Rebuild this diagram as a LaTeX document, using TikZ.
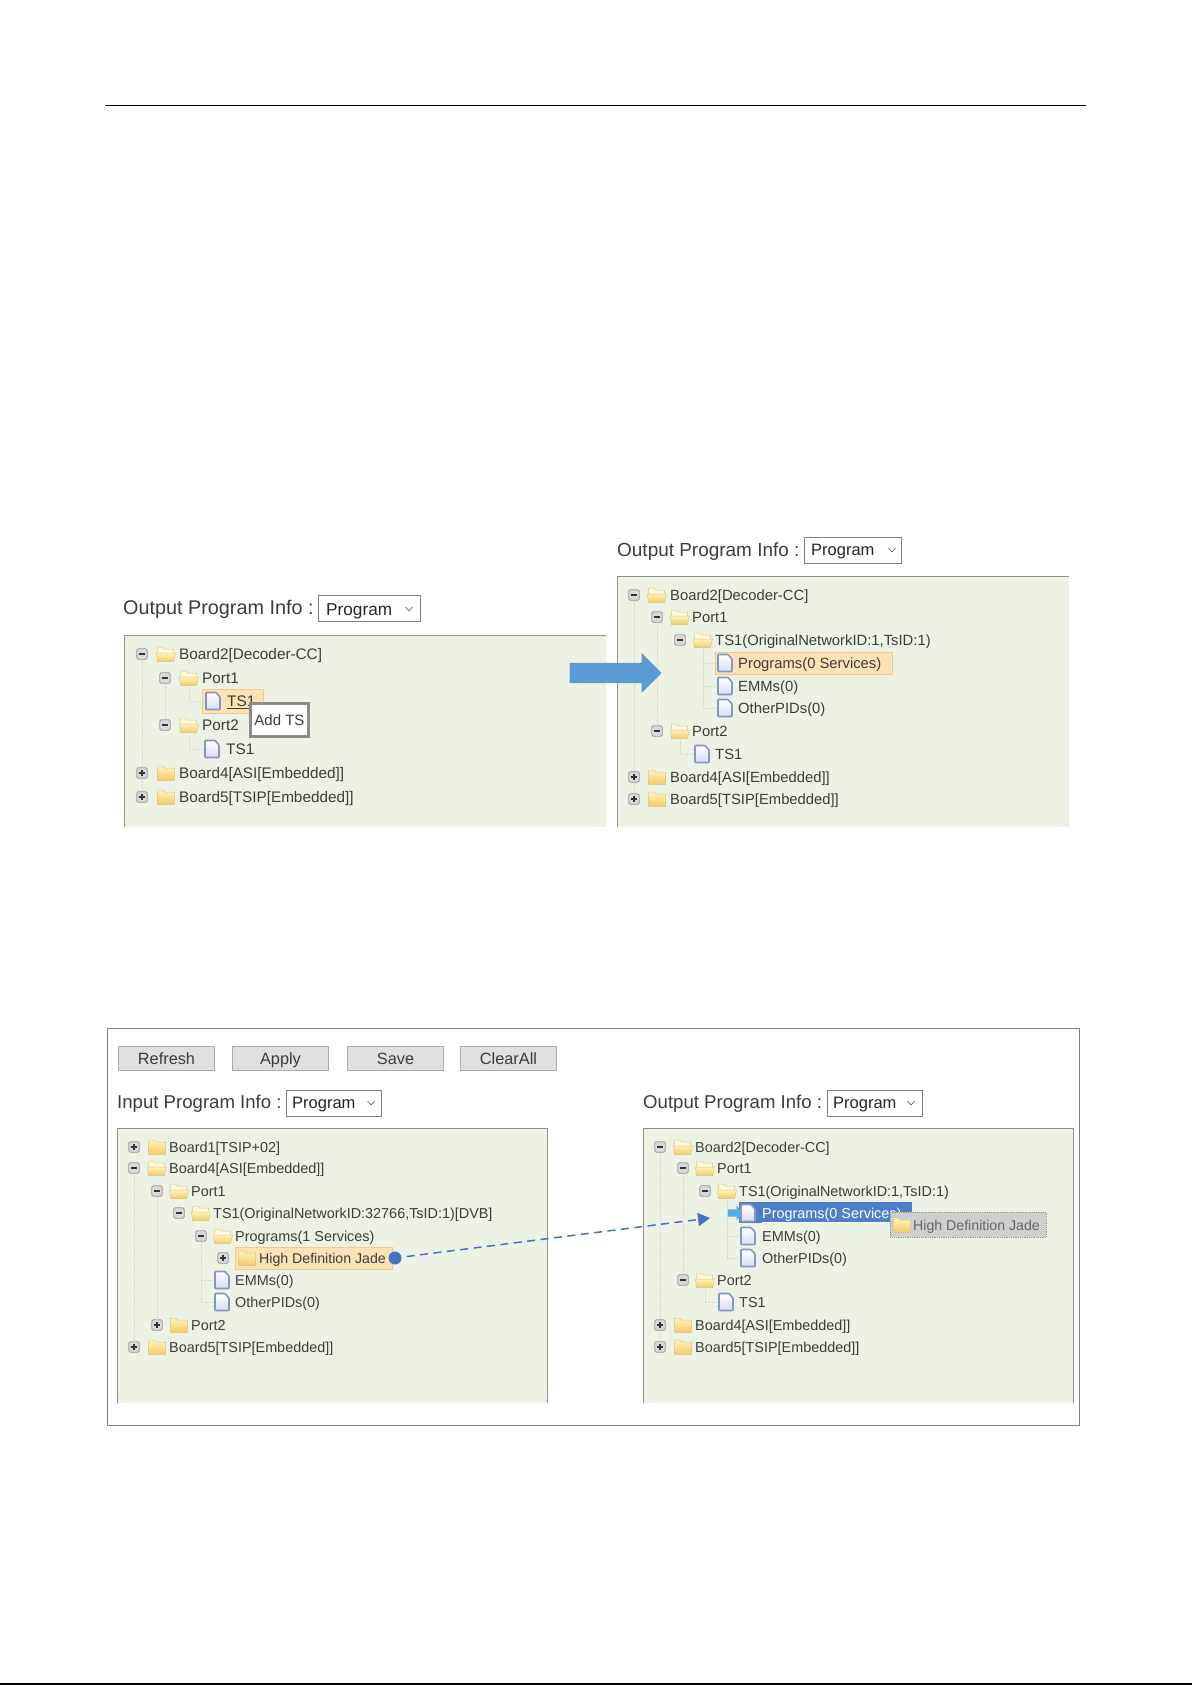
\documentclass[tikz,border=0pt]{standalone}
\usepackage{fontspec}
\setmainfont{Liberation Sans}
\usetikzlibrary{arrows.meta,shapes.arrows}
\definecolor{treeink}{HTML}{3C3C3C}
\definecolor{panelgreen}{HTML}{EDF3E4}
\definecolor{panelline}{HTML}{8F9388}
\definecolor{guideline}{HTML}{D2D7C8}
\definecolor{hiliteorange}{HTML}{FCE2B4}
\definecolor{hiliteline}{HTML}{F3C98A}
\definecolor{selectblue}{HTML}{4D7FC9}
\definecolor{flowblue}{HTML}{4472C4}
\definecolor{bigblue}{HTML}{5B9BD5}
\definecolor{markblue}{HTML}{4FAEE3}
\definecolor{foldertop}{HTML}{FFF3BE}
\definecolor{folderbot}{HTML}{F2CB66}
\definecolor{docline}{HTML}{8297C4}
\tikzset{
  treetext/.style 2 args={anchor=west,inner sep=0pt,text=treeink,font=\fontsize{#1}{#1}\selectfont,text height=#2,text depth=0pt},
  treeA/.style={treetext={15.3}{11pt}},
  treeB/.style={treetext={14.8}{10.7pt}},
  treeC/.style={treetext={14.4}{10.5pt}},
  treeD/.style={treetext={14.15}{10.5pt}},
  infoA/.style={treetext={19.8}{14pt}},
  infoB/.style={treetext={18.95}{13.5pt}},
  infoC/.style={treetext={18.6}{13.3pt}},
  progA/.style={treetext={17.2}{12.3pt},text=black!85},
  progB/.style={treetext={16.5}{11.7pt},text=black!85},
  selectbox/.style={draw=black!50,fill=white,line width=0.9pt,inner sep=0pt,minimum height=26pt,anchor=north west},
  hilite/.style={draw=hiliteline,fill=hiliteorange,line width=0.9pt,inner sep=0pt,anchor=north west},
  guide/.style={draw=guideline,line width=0.8pt,densely dotted},
  sidebar/.style={draw=panelline,line width=1pt},
  barbtn/.style={draw=black!33,fill=black!12,line width=0.9pt,minimum width=96pt,minimum height=24pt,inner sep=0pt,text=treeink,font=\fontsize{16.3}{16.3}\selectfont,text height=11.7pt,text depth=0pt},
  expbox/.style={draw=black!40,fill=black!15,rounded corners=1.5pt,line width=0.9pt,minimum size=10.5pt,inner sep=0pt},
  expminus/.style={expbox,path picture={
    \draw[black!80,line width=1.5pt] ([xshift=-3.2pt]path picture bounding box.center) -- ([xshift=3.2pt]path picture bounding box.center);}},
  expplus/.style={expbox,path picture={
    \draw[black!80,line width=1.4pt] ([xshift=-3.2pt]path picture bounding box.center) -- ([xshift=3.2pt]path picture bounding box.center);
    \draw[black!80,line width=1.4pt] ([yshift=-3.2pt]path picture bounding box.center) -- ([yshift=3.2pt]path picture bounding box.center);}},
  foldclosed/.style={minimum width=19pt,minimum height=17pt,inner sep=0pt,path picture={
    \begin{scope}[shift={(path picture bounding box.center)}]
      \draw[draw=folderbot!85!black!70,top color=foldertop,bottom color=folderbot,line width=0.5pt]
        (-8.5,-7) -- (-3.5,-7) -- (-1.5,-5) -- (8.5,-5) -- (8.5,7.5) -- (-8.5,7.5) -- cycle;
    \end{scope}}},
  foldopen/.style={minimum width=21pt,minimum height=17pt,inner sep=0pt,path picture={
    \begin{scope}[shift={(path picture bounding box.center)}]
      \draw[draw=folderbot!85!black!70,fill=foldertop!55,line width=0.5pt]
        (-8.5,-7) -- (-3.5,-7) -- (-1.5,-5) -- (7.5,-5) -- (7.5,7.5) -- (-8.5,7.5) -- cycle;
      \draw[draw=folderbot!85!black!70,top color=foldertop,bottom color=folderbot,line width=0.5pt]
        (-9.5,-1) -- (9.5,-1) -- (7.5,7.5) -- (-8.5,7.5) -- cycle;
    \end{scope}}},
  docicon/.style={minimum width=18pt,minimum height=20pt,inner sep=0pt,path picture={
    \begin{scope}[shift={(path picture bounding box.center)}]
      \draw[draw=docline,top color=white,bottom color=blue!14,line width=1.6pt,rounded corners=0.8pt]
        (-7,-8.5) -- (3,-8.5) -- (7,-4) -- (7,8.5) -- (-7,8.5) -- cycle;
    \end{scope}}},
  pics/chevron/.style={code={\draw[black!60,line width=0.7pt] (-3.5,-1.8) -- (0,1.8) -- (3.5,-1.8);}}
}
\begin{document}
\begin{tikzpicture}[x=1pt,y=-1pt]
    \useasboundingbox (0,0) rectangle (1192,1685);
    \fill[white] (0,0) rectangle (1192,1685);
    \draw[black,line width=1pt] (105,106) -- (1086,106);
    \draw[black,line width=1.2pt] (0,1684) -- (1192,1684);

    \fill[panelgreen] (124,635) rectangle (606,827);
    \draw[sidebar] (124,827) -- (124,635) -- (606,635);
    \node[infoA] (ainfo) at (123,607) {Output Program Info :};
    \node[selectbox,minimum width=102pt] (aselect) at (318,595) {};
    \node[progA] (aprog) at (326,609) {Program};
    \pic at (409,609) {chevron};
    \node[expminus] (aexp1) at (142,654) {};
    \node[foldopen] (afold1) at (166,654) {};
    \node[treeA] (atext1) at (179,654) {Board2[Decoder-CC]};
    \node[expminus] (aexp2) at (165,678) {};
    \node[foldopen] (afold2) at (189,678) {};
    \node[treeA] (atext2) at (202,678) {Port1};
    \node[hilite,minimum width=61pt,minimum height=24pt] (ahilite) at (202,689) {};
    \node[docicon] (adoc3) at (213,701) {};
    \node[treeA] (atext3) at (227,701) {\underline{TS1}};
    \node[expminus] (aexp4) at (165,725) {};
    \node[foldopen] (afold4) at (189,725) {};
    \node[treeA] (atext4) at (202,725) {Port2};
    \node[docicon] (adoc5) at (212,749) {};
    \node[treeA] (atext5) at (226,749) {TS1};
    \node[expplus] (aexp6) at (142,773) {};
    \node[foldclosed] (afold6) at (166,773) {};
    \node[treeA] (atext6) at (179,773) {Board4[ASI[Embedded]]};
    \node[expplus] (aexp7) at (142,797) {};
    \node[foldclosed] (afold7) at (166,797) {};
    \node[treeA] (atext7) at (179,797) {Board5[TSIP[Embedded]]};
    \draw[guide] (aexp1) -- (aexp6);
    \draw[guide] (aexp6) -- (aexp7);
    \draw[guide] (aexp2) -- (aexp4);
    \draw[guide] (afold2) |- (adoc3);
    \draw[guide] (afold4) |- (adoc5);
    \node[draw=black!45,fill=white,line width=3pt,minimum width=58pt,minimum height=33pt,inner sep=0pt,text=treeink,font=\fontsize{15}{15}\selectfont] (addts) at (279.5,720) {Add TS};

    \fill[panelgreen] (617,576) rectangle (1069,827);
    \draw[sidebar] (617,827) -- (617,576) -- (1069,576);
    \node[infoB] (binfo) at (617,549.5) {Output Program Info :};
    \node[selectbox,minimum width=97pt] (bselect) at (804,537) {};
    \node[progB] (bprog) at (811,550) {Program};
    \pic at (892,550) {chevron};
    \node[expminus] (bexp1) at (634,595) {};
    \node[foldopen] (bfold1) at (657,595) {};
    \node[treeB] (btext1) at (670,595) {Board2[Decoder-CC]};
    \node[expminus] (bexp2) at (657,617) {};
    \node[foldopen] (bfold2) at (680,617) {};
    \node[treeB] (btext2) at (692,617) {Port1};
    \node[expminus] (bexp3) at (680,640) {};
    \node[foldopen] (bfold3) at (703,640) {};
    \node[treeB] (btext3) at (715,640) {TS1(OriginalNetworkID:1,TsID:1)};
    \node[hilite,minimum width=177pt,minimum height=22pt] (bhilite) at (715,652) {};
    \node[docicon] (bdoc4) at (725,663) {};
    \node[treeB] (btext4) at (738,663) {Programs(0 Services)};
    \node[docicon] (bdoc5) at (725,686) {};
    \node[treeB] (btext5) at (738,686) {EMMs(0)};
    \node[docicon] (bdoc6) at (725,708) {};
    \node[treeB] (btext6) at (738,708) {OtherPIDs(0)};
    \node[expminus] (bexp7) at (657,731) {};
    \node[foldopen] (bfold7) at (680,731) {};
    \node[treeB] (btext7) at (692,731) {Port2};
    \node[docicon] (bdoc8) at (702,754) {};
    \node[treeB] (btext8) at (715,754) {TS1};
    \node[expplus] (bexp9) at (634,777) {};
    \node[foldclosed] (bfold9) at (657,777) {};
    \node[treeB] (btext9) at (670,777) {Board4[ASI[Embedded]]};
    \node[expplus] (bexp10) at (634,799) {};
    \node[foldclosed] (bfold10) at (657,799) {};
    \node[treeB] (btext10) at (670,799) {Board5[TSIP[Embedded]]};
    \draw[guide] (bexp1) -- (bexp9);
    \draw[guide] (bexp9) -- (bexp10);
    \draw[guide] (bexp2) -- (bexp7);
    \draw[guide] (bfold3) |- (bdoc4);
    \draw[guide] (bfold3) |- (bdoc5);
    \draw[guide] (bfold3) |- (bdoc6);
    \draw[guide] (bfold7) |- (bdoc8);
    \node[single arrow,fill=bigblue,inner sep=0pt,text height=10pt,text depth=10pt,minimum height=92pt,single arrow head extend=10pt,anchor=tip] (bigarrow) at (662,673) {};

    \draw[black!50,line width=1pt] (107,1028.5) rectangle (1079,1425);
    \node[barbtn] (refresh) at (166.5,1058.5) {Refresh};
    \node[barbtn] (apply) at (280.5,1058.5) {Apply};
    \node[barbtn] (save) at (395.5,1058.5) {Save};
    \node[barbtn] (clearall) at (508.5,1058.5) {ClearAll};

    \fill[panelgreen] (117,1128.5) rectangle (547,1403);
    \draw[sidebar] (117,1403) -- (117,1128.5) -- (547,1128.5) -- (547,1403);
    \node[infoC] (iinfo) at (117,1102) {Input Program Info :};
    \node[selectbox,minimum width=94.5pt] (iselect) at (286,1090) {};
    \node[progB] (iprog) at (292,1103) {Program};
    \pic at (371,1103) {chevron};
    \node[expplus] (iexp1) at (134,1147) {};
    \node[foldclosed] (ifold1) at (157,1147) {};
    \node[treeC] (itext1) at (169,1147) {Board1[TSIP+02]};
    \node[expminus] (iexp2) at (134,1168) {};
    \node[foldopen] (ifold2) at (157,1168) {};
    \node[treeC] (itext2) at (169,1168) {Board4[ASI[Embedded]]};
    \node[expminus] (iexp3) at (157,1191) {};
    \node[foldopen] (ifold3) at (179,1191) {};
    \node[treeC] (itext3) at (191,1191) {Port1};
    \node[expminus] (iexp4) at (179,1213) {};
    \node[foldopen] (ifold4) at (201,1213) {};
    \node[treeC] (itext4) at (213,1213) {TS1(OriginalNetworkID:32766,TsID:1)[DVB]};
    \node[expminus] (iexp5) at (201,1236) {};
    \node[foldopen] (ifold5) at (223,1236) {};
    \node[treeC] (itext5) at (235,1236) {Programs(1 Services)};
    \node[expplus] (iexp6) at (223,1258) {};
    \node[hilite,minimum width=157pt,minimum height=22pt] (ihilite) at (235,1247) {};
    \node[foldclosed] (ifold6) at (247,1258) {};
    \node[treeD] (itext6) at (259,1258) {High Definition Jade};
    \node[docicon] (idoc7) at (222,1280) {};
    \node[treeC] (itext7) at (235,1280) {EMMs(0)};
    \node[docicon] (idoc8) at (222,1302) {};
    \node[treeC] (itext8) at (235,1302) {OtherPIDs(0)};
    \node[expplus] (iexp9) at (157,1325) {};
    \node[foldclosed] (ifold9) at (179,1325) {};
    \node[treeC] (itext9) at (191,1325) {Port2};
    \node[expplus] (iexp10) at (134,1347) {};
    \node[foldclosed] (ifold10) at (157,1347) {};
    \node[treeC] (itext10) at (169,1347) {Board5[TSIP[Embedded]]};
    \draw[guide] (iexp2) -- (iexp10);
    \draw[guide] (iexp3) -- (iexp9);
    \draw[guide] (iexp5) |- (idoc8);
    \draw[guide] (iexp5) |- (idoc7);

    \fill[panelgreen] (643,1128.5) rectangle (1073,1403);
    \draw[sidebar] (643,1403) -- (643,1128.5) -- (1073,1128.5) -- (1073,1403);
    \node[infoC] (oinfo) at (643,1102) {Output Program Info :};
    \node[selectbox,minimum width=94.5pt] (oselect) at (827,1090) {};
    \node[progB] (oprog) at (833,1103) {Program};
    \pic at (911,1103) {chevron};
    \node[expminus] (oexp1) at (660,1147) {};
    \node[foldopen] (ofold1) at (683,1147) {};
    \node[treeC] (otext1) at (695,1147) {Board2[Decoder-CC]};
    \node[expminus] (oexp2) at (683,1168) {};
    \node[foldopen] (ofold2) at (705,1168) {};
    \node[treeC] (otext2) at (717,1168) {Port1};
    \node[expminus] (oexp3) at (705,1191) {};
    \node[foldopen] (ofold3) at (727,1191) {};
    \node[treeC] (otext3) at (739,1191) {TS1(OriginalNetworkID:1,TsID:1)};
    \node[fill=selectblue,inner sep=0pt,minimum width=173pt,minimum height=21pt,anchor=north west] (oselected) at (739,1202) {};
    \node[single arrow,fill=markblue,inner sep=0pt,text height=3.5pt,text depth=3.5pt,minimum height=16pt,single arrow head extend=3.5pt,anchor=tip] (omark) at (744,1213) {};
    \node[docicon] (odoc4) at (748,1213) {};
    \node[treeC,text=white] (otext4) at (762,1213) {\underline{Programs(0 Services)}};
    \node[docicon] (odoc5) at (748,1236) {};
    \node[treeC] (otext5) at (762,1236) {EMMs(0)};
    \node[docicon] (odoc6) at (748,1258) {};
    \node[treeC] (otext6) at (762,1258) {OtherPIDs(0)};
    \node[expminus] (oexp7) at (683,1280) {};
    \node[foldopen] (ofold7) at (705,1280) {};
    \node[treeC] (otext7) at (717,1280) {Port2};
    \node[docicon] (odoc8) at (726,1302) {};
    \node[treeC] (otext8) at (739,1302) {TS1};
    \node[expplus] (oexp9) at (660,1325) {};
    \node[foldclosed] (ofold9) at (683,1325) {};
    \node[treeC] (otext9) at (695,1325) {Board4[ASI[Embedded]]};
    \node[expplus] (oexp10) at (660,1347) {};
    \node[foldclosed] (ofold10) at (683,1347) {};
    \node[treeC] (otext10) at (695,1347) {Board5[TSIP[Embedded]]};
    \draw[guide] (oexp1) -- (oexp9);
    \draw[guide] (oexp9) -- (oexp10);
    \draw[guide] (oexp2) -- (oexp7);
    \draw[guide] (ofold3) |- (odoc5);
    \draw[guide] (ofold3) |- (odoc6);
    \draw[guide] (ofold7) |- (odoc8);
    \node[draw=green!40!black!55,densely dotted,fill=black!19,inner sep=0pt,line width=0.8pt,minimum width=156pt,minimum height=25pt,anchor=north west] (oghost) at (890,1212) {};
    \node[foldclosed] (oghostfold) at (902,1225) {};
    \node[treeD,text=black!60] (oghosttext) at (913,1225) {High Definition Jade};

    \node[circle,fill=flowblue,minimum size=13pt,inner sep=0pt] (flowdot) at (395,1258) {};
    \coordinate (flowtip) at (710,1218);
    \draw[flowblue,line width=1.5pt,dash pattern=on 8pt off 5.5pt,shorten <=5pt,-{Triangle[length=12pt,width=13pt]}] (flowdot) -- (flowtip);
\end{tikzpicture}
\end{document}
